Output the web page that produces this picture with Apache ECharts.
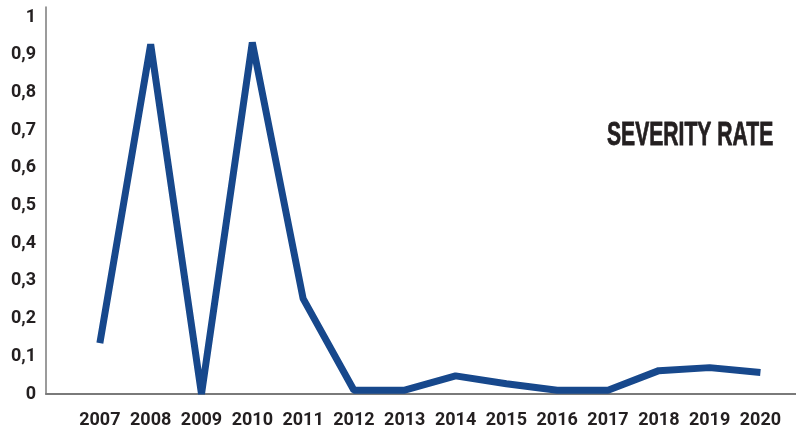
<!DOCTYPE html>
<html>
<head>
<meta charset="utf-8">
<script src="https://cdn.jsdelivr.net/npm/echarts@6/dist/echarts.min.js"></script>
<style>
html,body{margin:0;padding:0;background:#fff;}
#chart{width:796px;height:430px;}
</style>
</head>
<body>
<div id="chart"></div>
<script>
var years = [2007, 2008, 2009, 2010, 2011, 2012, 2013, 2014, 2015, 2016, 2017, 2018, 2019, 2020];
var severityRate = [0.135, 0.928, 0, 0.933, 0.253, 0.01, 0.01, 0.048, 0.027, 0.01, 0.01, 0.062, 0.07, 0.057];
var yTicks = [0, 0.1, 0.2, 0.3, 0.4, 0.5, 0.6, 0.7, 0.8, 0.9, 1];
var titleText = 'SEVERITY RATE';

var chart = echarts.init(document.getElementById('chart'), null, {renderer: 'canvas'});
var labelFont = 'Roboto';
var option = {
  animation: false,
  backgroundColor: '#ffffff',
  graphic: [{
    type: 'text',
    x: 607,
    y: 136,
    scaleX: 0.64,
    style: {
      text: titleText,
      font: 'bold 33px "Liberation Sans", Arial, sans-serif',
      fill: '#231f20',
      stroke: '#231f20',
      lineWidth: 0.8,
      align: 'left',
      verticalAlign: 'middle'
    }
  }],
  grid: {left: 46, right: 0, top: 7, bottom: 36, containLabel: false},
  xAxis: {
    type: 'value',
    min: 2005.94,
    max: 2020.7,
    axisLine: {show: true, lineStyle: {color: '#7a7a7a', width: 2}},
    axisTick: {show: false},
    splitLine: {show: false},
    axisLabel: {
      customValues: years,
      margin: 17,
      fontFamily: labelFont,
      fontWeight: 'bold',
      fontSize: 18,
      color: '#231f20',
      formatter: function (v) { return String(Math.round(v)); }
    }
  },
  yAxis: {
    type: 'value',
    min: 0,
    max: 1.027,
    axisLine: {show: true, lineStyle: {color: '#7a7a7a', width: 1.5}},
    axisTick: {show: false},
    splitLine: {show: false},
    axisLabel: {
      customValues: yTicks,
      margin: 10,
      fontFamily: labelFont,
      fontWeight: 'bold',
      fontSize: 18,
      color: '#231f20',
      formatter: function (v) {
        var r = Math.round(v * 10) / 10;
        return String(r).replace('.', ',');
      }
    }
  },
  series: [{
    type: 'line',
    data: years.map(function (y, i) { return [y, severityRate[i]]; }),
    showSymbol: false,
    symbol: 'none',
    lineStyle: {color: '#17488c', width: 7, cap: 'butt', join: 'bevel'},
    z: 3
  }]
};
chart.setOption(option);
</script>
</body>
</html>
